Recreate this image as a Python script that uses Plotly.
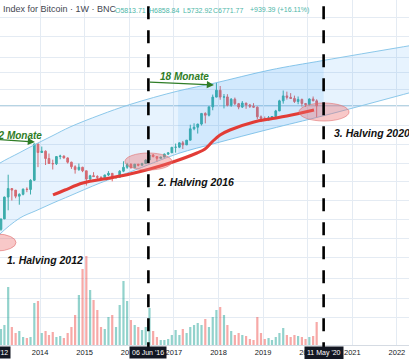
import math
import datetime as dt
import plotly.graph_objects as go

# ---------------- data ----------------
# monthly candles (approximation of weekly BNC candles), Jan 2013 .. Mar 2020
years_months = [(y, m) for y in range(2013, 2021) for m in range(1, 13)][:87]
month_dates = [f"{y}-{m:02d}-15" for y, m in years_months]

opens = [13.5, 20.4, 33.4, 93, 139, 129, 97, 106, 135, 133, 205, 1130,
         755, 805, 570, 450, 445, 625, 640, 585, 480, 387, 338, 378,
         320, 217, 254, 244, 236, 230, 263, 284, 230, 236, 314, 377,
         430, 369, 437, 416, 448, 531, 673, 624, 575, 609, 700, 745,
         965, 970, 1190, 1080, 1350, 2300, 2480, 2870, 4740, 4360, 6460, 10200,
         14100, 10200, 10300, 6930, 9240, 7500, 6390, 7730, 7030, 6630, 6370, 4040,
         3740, 3460, 3850, 4100, 5330, 8560, 10800, 10080, 9600, 8300, 9150, 7550,
         7200, 9350, 8550]
highs = [20.4, 33.4, 95, 266, 139, 129, 111, 139, 147, 215, 1150, 1150,
         1000, 835, 720, 540, 630, 680, 655, 600, 490, 415, 450, 385,
         320, 265, 300, 260, 247, 265, 315, 285, 245, 330, 500, 465,
         460, 440, 440, 467, 550, 780, 705, 625, 615, 720, 755, 980,
         1150, 1210, 1300, 1350, 2790, 2980, 2920, 4780, 5000, 6470, 11500, 19870,
         17200, 11800, 11700, 9750, 9990, 7760, 8480, 7760, 7410, 7680, 6550, 4310,
         4100, 4200, 4140, 5600, 9000, 13900, 13200, 12300, 10950, 10500, 9500, 7750,
         9600, 10500, 9200]
lows = [13.2, 19.1, 33, 50, 79, 88, 65, 101, 117, 105, 198, 380,
        740, 420, 440, 340, 420, 550, 570, 450, 350, 280, 320, 300,
        160, 210, 240, 215, 225, 220, 250, 195, 225, 235, 300, 350,
        355, 365, 395, 410, 440, 530, 600, 480, 570, 605, 680, 740,
        750, 930, 890, 1080, 1340, 2150, 1840, 2690, 2970, 4120, 5500, 10900,
        9000, 6000, 6600, 6450, 7040, 5770, 6110, 5880, 6120, 6200, 3650, 3150,
        3400, 3400, 3770, 4100, 5300, 7500, 9100, 9400, 7750, 7300, 6550, 6430,
        6870, 8450, 3850]
closes = [20.4, 33.4, 93, 139, 129, 97, 106, 135, 133, 205, 1130, 755,
          805, 570, 450, 445, 625, 640, 585, 480, 387, 338, 378, 320,
          217, 254, 244, 236, 230, 263, 284, 230, 236, 314, 377, 430,
          369, 437, 416, 448, 531, 673, 624, 575, 609, 700, 745, 965,
          970, 1190, 1080, 1350, 2300, 2480, 2870, 4740, 4360, 6460, 10200, 14100,
          10200, 10300, 6930, 9240, 7500, 6390, 7730, 7030, 6630, 6370, 4040, 3740,
          3460, 3850, 4100, 5330, 8560, 10800, 10080, 9600, 8300, 9150, 7550, 7200,
          9350, 8550, 6771.77]
volumes = [16, 16, 20, 58, 18, 12, 14, 8, 7, 8, 42, 44,
           12, 14, 10, 13, 8, 9, 7, 12, 18, 30, 50, 76,
           89, 55, 45, 35, 18, 16, 28, 30, 18, 40, 64, 44,
           25, 20, 18, 15, 18, 37, 14, 8, 5, 5, 6, 10,
           15, 10, 16, 12, 18, 20, 22, 20, 26, 18, 28, 35,
           38, 30, 20, 14, 10, 12, 10, 9, 6, 5, 28, 12,
           6, 7, 5, 8, 12, 17, 10, 8, 10, 9, 8, 6,
           8, 9, 23]

# 200-week moving average (red curve)
ma_dates = ["2014-04-17", "2014-07-24", "2014-12-17", "2015-07-28", "2016-01-07",
            "2016-06-19", "2016-12-24", "2017-07-09", "2017-09-13", "2017-11-17",
            "2018-01-14", "2018-04-05", "2018-10-19", "2019-02-27", "2019-07-15",
            "2020-02-22"]
ma_values = [102.6, 129.7, 180, 228, 275, 348, 484, 738, 890, 1297,
             1720, 2175, 3168, 3648, 4200, 5568]

# channel drawn on the chart
chan_dates = ["2012-12-15", "2013-02-07", "2013-07-20", "2013-11-28", "2014-04-17",
              "2014-09-03", "2015-05-07", "2016-01-07", "2017-02-04", "2017-12-03",
              "2019-02-27", "2020-05-11", "2022-07-08"]
chan_upper = [365, 461, 756, 1127, 1680, 2504, 4403, 7210, 13600, 19800, 36480, 57280, 123800]
chan_lower = [11.3, 16.4, 34.8, 49.0, 70.4, 98.8, 180, 302, 718, 1159, 2280, 4260, 14250]
shade_start, shade_end = "2017-02-04", "2020-05-11"

halving_dates = ["2012-11-26", "2016-06-06", "2020-05-11"]
halving_labels = ["26 Nov '12", "06 Jun '16", "11 May '20"]
last_close = 6771.77

year_ticks = [str(y) for y in range(2013, 2023)]
price_grid = [440000, 180000, 67000, 32000, 14400, 6500, 2700, 1100, 450, 190, 80, 33, 13.5, 5.5, 2.0, 0.8, 0.33]

# ---------------- styling ----------------
UP, DOWN = "#3fb0a3", "#eb6663"
VUP, VDOWN = "rgba(38,166,154,0.5)", "rgba(239,83,80,0.5)"
GRID = "#e4ebf3"
X_RANGE = ["2013-02-07", "2022-04-10"]
Y_RANGE = [-1.0502, 5.9906]
FONT = "Liberation Sans, Arial, sans-serif"

fig = go.Figure()

# channel fill
fig.add_trace(go.Scatter(x=chan_dates, y=chan_lower, mode="lines", line=dict(color="#8cc8ea", width=1, shape="spline"),
                         hoverinfo="skip", showlegend=False))
fig.add_trace(go.Scatter(x=chan_dates, y=chan_upper, mode="lines", line=dict(color="#8cc8ea", width=1, shape="spline"),
                         fill="tonexty", fillcolor="rgba(33,150,243,0.11)", hoverinfo="skip", showlegend=False))
i0, i1 = chan_dates.index(shade_start), chan_dates.index(shade_end) + 1
fig.add_trace(go.Scatter(x=chan_dates[i0:i1], y=chan_lower[i0:i1], mode="lines", line=dict(width=0, shape="spline"),
                         hoverinfo="skip", showlegend=False))
fig.add_trace(go.Scatter(x=chan_dates[i0:i1], y=chan_upper[i0:i1], mode="lines", line=dict(width=0, shape="spline"),
                         fill="tonexty", fillcolor="rgba(33,150,243,0.10)", hoverinfo="skip", showlegend=False))

# volume
vol_colors = [VUP if c >= o else VDOWN for o, c in zip(opens, closes)]
fig.add_trace(go.Bar(x=month_dates, y=volumes, marker=dict(color=vol_colors, line=dict(width=0)),
                     width=18 * 86400000, yaxis="y2", hoverinfo="skip", showlegend=False))

# candles
fig.add_trace(go.Candlestick(x=month_dates, open=opens, high=highs, low=lows, close=closes,
                             increasing=dict(line=dict(color=UP, width=1), fillcolor=UP),
                             decreasing=dict(line=dict(color=DOWN, width=1), fillcolor=DOWN),
                             whiskerwidth=0, showlegend=False, hoverinfo="skip"))

# 200 week MA
fig.add_trace(go.Scatter(x=ma_dates, y=ma_values, mode="lines", line=dict(color="#e23c36", width=3, shape="spline"),
                         hoverinfo="skip", showlegend=False))

shapes = []
shapes.append(dict(type="line", xref="paper", x0=0, x1=1, yref="y", y0=last_close, y1=last_close,
                   line=dict(color="rgba(110,170,200,0.75)", width=1), layer="below"))
ell = [("2012-08-10", "2013-06-18", 7.38, 16.4),
       ("2015-11-27", "2016-12-16", 332, 738),
       ("2019-10-22", "2020-12-05", 3320, 7735)]
for x0, x1, y0, y1 in ell:
    shapes.append(dict(type="circle", xref="x", yref="y", x0=x0, x1=x1, y0=y0, y1=y1,
                       fillcolor="rgba(236,110,110,0.38)", line=dict(color="rgba(225,110,110,0.6)", width=1),
                       layer="above"))
for d in halving_dates[1:]:
    shapes.append(dict(type="line", xref="x", x0=d, x1=d, yref="paper", y0=-0.03, y1=1,
                       line=dict(color="#000000", width=2.6, dash="13px,11px"), layer="above"))

annotations = []
annotations.append(dict(text="Index for Bitcoin · 1W · BNC", xref="paper", yref="paper", x=0.003, y=1 - 9 / 345,
                        xanchor="left", yanchor="middle", showarrow=False,
                        font=dict(family=FONT, size=9, color="#434651")))
ohlc_txt = [("O5813.71", 113), ("H6858.84", 147), ("L5732.92", 181), ("C6771.77", 211), ("+939.39 (+16.11%)", 248)]
for t, px in ohlc_txt:
    annotations.append(dict(text=t, xref="paper", yref="paper", x=px / 409, y=1 - 10 / 345,
                            xanchor="left", yanchor="middle", showarrow=False,
                            font=dict(family=FONT, size=7, color="#4db6a8")))

lbl_font = dict(family=FONT, size=10.5, color="#111111")
annotations.append(dict(text="<b><i>1. Halving 2012</i></b>", x="2014-02-11", y=math.log10(4.84), xref="x", yref="y",
                        showarrow=False, font=lbl_font))
annotations.append(dict(text="<b><i>2. Halving 2016</i></b>", x="2017-06-27", y=math.log10(193.4), xref="x", yref="y",
                        showarrow=False, font=lbl_font))
annotations.append(dict(text="<b><i>3. Halving 2020</i></b>", x="2020-07-19", y=math.log10(1916), xref="x", yref="y",
                        xanchor="left", showarrow=False, font=lbl_font))

GREEN = "#2f7d27"
gfont = dict(family=FONT, size=10, color=GREEN)
annotations.append(dict(text="<b><i>12 Monate</i></b>", x="2013-06-30", y=math.log10(1720), xref="x", yref="y",
                        showarrow=False, font=gfont))
annotations.append(dict(text="", x="2013-11-20", y=math.log10(1237), ax="2012-11-26", ay=math.log10(1425),
                        xref="x", yref="y", axref="x", ayref="y", showarrow=True, arrowhead=2, arrowsize=1.1,
                        arrowwidth=1.3, arrowcolor=GREEN, standoff=0))
annotations.append(dict(text="<b><i>18 Monate</i></b>", x="2017-03-28", y=math.log10(27520), xref="x", yref="y",
                        showarrow=False, font=gfont))
annotations.append(dict(text="", x="2017-11-25", y=math.log10(18030), ax="2016-06-06", ay=math.log10(20760),
                        xref="x", yref="y", axref="x", ayref="y", showarrow=True, arrowhead=2, arrowsize=1.1,
                        arrowwidth=1.3, arrowcolor=GREEN, standoff=0))


def to_paper(d):
    a = dt.date.fromisoformat(X_RANGE[0]); b = dt.date.fromisoformat(X_RANGE[1])
    return (dt.date.fromisoformat(d) - a).days / (b - a).days


for d, lab in zip(halving_dates, halving_labels):
    annotations.append(dict(text=lab, xref="paper", yref="paper", x=to_paper(d), y=-7.5 / 345,
                            xanchor="center", yanchor="middle", showarrow=False, bgcolor="#131722",
                            borderpad=2, font=dict(family=FONT, size=7, color="#ffffff")))

fig.update_layout(
    width=409, height=359, margin=dict(l=0, r=0, t=0, b=14),
    paper_bgcolor="#ffffff", plot_bgcolor="#ffffff",
    shapes=shapes, annotations=annotations, showlegend=False,
    xaxis=dict(type="date", range=X_RANGE, rangeslider=dict(visible=False),
               tickvals=[f"{y}-01-01" for y in year_ticks], ticktext=year_ticks,
               showgrid=True, gridcolor=GRID, gridwidth=1, zeroline=False,
               showline=True, linecolor="#d5dbe3", linewidth=1, ticks="",
               tickfont=dict(family=FONT, size=7.5, color="#131722")),
    yaxis=dict(type="log", range=Y_RANGE, tickvals=price_grid, showticklabels=False,
               showgrid=True, gridcolor=GRID, gridwidth=1, zeroline=False, fixedrange=True),
    yaxis2=dict(overlaying="y", range=[0, 345], showgrid=False, showticklabels=False, zeroline=False),
)

fig.write_html("out.html", config={"displayModeBar": False},
               post_script="document.body.style.margin='0';")
